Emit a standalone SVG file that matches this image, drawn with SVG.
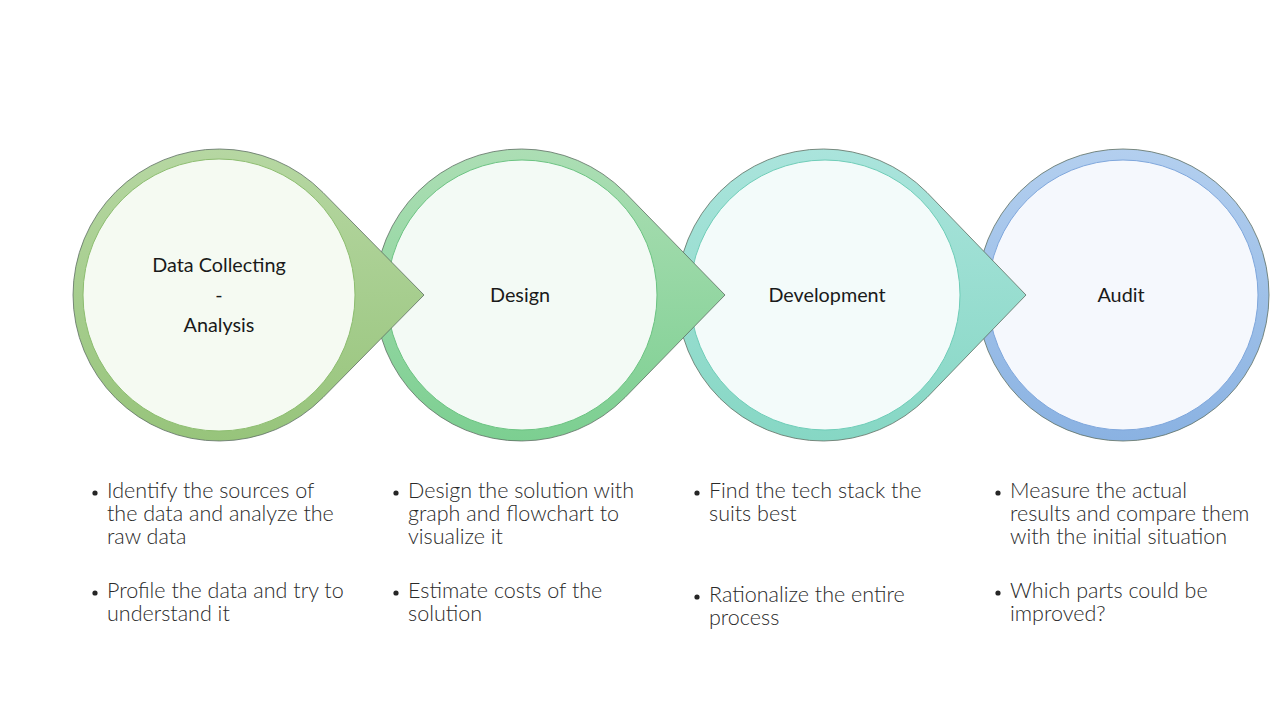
<svg xmlns="http://www.w3.org/2000/svg" width="1280" height="720" viewBox="0 0 1280 720">
<defs>
<linearGradient id="g1" x1="0" y1="0" x2="0" y2="1"><stop offset="0" stop-color="#b6d7a2"/><stop offset="1" stop-color="#97c47b"/></linearGradient>
<linearGradient id="g2" x1="0" y1="0" x2="0" y2="1"><stop offset="0" stop-color="#acdeb4"/><stop offset="1" stop-color="#7ccf91"/></linearGradient>
<linearGradient id="g3" x1="0" y1="0" x2="0" y2="1"><stop offset="0" stop-color="#aae4dc"/><stop offset="1" stop-color="#86d7c4"/></linearGradient>
<linearGradient id="g4" x1="0" y1="0" x2="0" y2="1"><stop offset="0" stop-color="#b3cfef"/><stop offset="1" stop-color="#8ab2e2"/></linearGradient>
</defs>
<style>
.outer{stroke:#5d6e62;stroke-width:0.8}
.title{font-family:Lato,"Open Sans",sans-serif;font-size:19.8px;fill:#1a1a1a;text-anchor:middle}
.body{font-family:Lato,"Open Sans",sans-serif;font-weight:300;font-size:21.5px;fill:#2a2a2a}
.dot{fill:#262626}
</style>
<rect width="1280" height="720" fill="#ffffff"/>
<g id="node-audit">
<circle class="outer" cx="1123" cy="295" r="146" fill="url(#g4)"/>
<circle cx="1123" cy="295" r="135" fill="#f5f8fd" stroke="#7fa7dc" stroke-width="1"/>
<text class="title" x="1121" y="302">Audit</text>
</g>
<g id="node-development">
<path class="outer" d="M927,192.5 A146,146 0 1,0 927,397.5 L1026,295 Z" fill="url(#g3)"/>
<circle cx="825" cy="295" r="135" fill="#f3fbfa" stroke="#6fcdb8" stroke-width="1"/>
<text class="title" x="827" y="302">Development</text>
</g>
<g id="node-design">
<path class="outer" d="M625,192.5 A146,146 0 1,0 625,397.5 L725,295 Z" fill="url(#g2)"/>
<circle cx="522" cy="295" r="135" fill="#f3faf5" stroke="#6cc382" stroke-width="1"/>
<text class="title" x="520" y="302">Design</text>
</g>
<g id="node-data">
<path class="outer" d="M323,192.5 A146,146 0 1,0 323,397.5 L424,295 Z" fill="url(#g1)"/>
<circle cx="219" cy="295" r="136" fill="#f5faf2" stroke="#8dbd70" stroke-width="1"/>
<text class="title" x="219" y="272">Data Collecting</text>
<text class="title" x="219" y="302">-</text>
<text class="title" x="219" y="332">Analysis</text>
</g>
<g id="connectors"></g>
<g id="bullets-1">
<circle class="dot" cx="95" cy="493" r="2.6"/>
<text class="body" x="107" y="498">Identify the sources of</text>
<text class="body" x="107" y="521">the data and analyze the</text>
<text class="body" x="107" y="544">raw data</text>
<circle class="dot" cx="95" cy="593" r="2.6"/>
<text class="body" x="107" y="598">Profile the data and try to</text>
<text class="body" x="107" y="621">understand it</text>
</g>
<g id="bullets-2">
<circle class="dot" cx="396" cy="493" r="2.6"/>
<text class="body" x="408" y="498">Design the solution with</text>
<text class="body" x="408" y="521">graph and flowchart to</text>
<text class="body" x="408" y="544">visualize it</text>
<circle class="dot" cx="396" cy="593" r="2.6"/>
<text class="body" x="408" y="598">Estimate costs of the</text>
<text class="body" x="408" y="621">solution</text>
</g>
<g id="bullets-3">
<circle class="dot" cx="697" cy="493" r="2.6"/>
<text class="body" x="709" y="498">Find the tech stack the</text>
<text class="body" x="709" y="521">suits best</text>
<circle class="dot" cx="697" cy="597" r="2.6"/>
<text class="body" x="709" y="602">Rationalize the entire</text>
<text class="body" x="709" y="625">process</text>
</g>
<g id="bullets-4">
<circle class="dot" cx="998" cy="493" r="2.6"/>
<text class="body" x="1010" y="498">Measure the actual</text>
<text class="body" x="1010" y="521">results and compare them</text>
<text class="body" x="1010" y="544">with the initial situation</text>
<circle class="dot" cx="998" cy="593" r="2.6"/>
<text class="body" x="1010" y="598">Which parts could be</text>
<text class="body" x="1010" y="621">improved?</text>
</g>
</svg>
